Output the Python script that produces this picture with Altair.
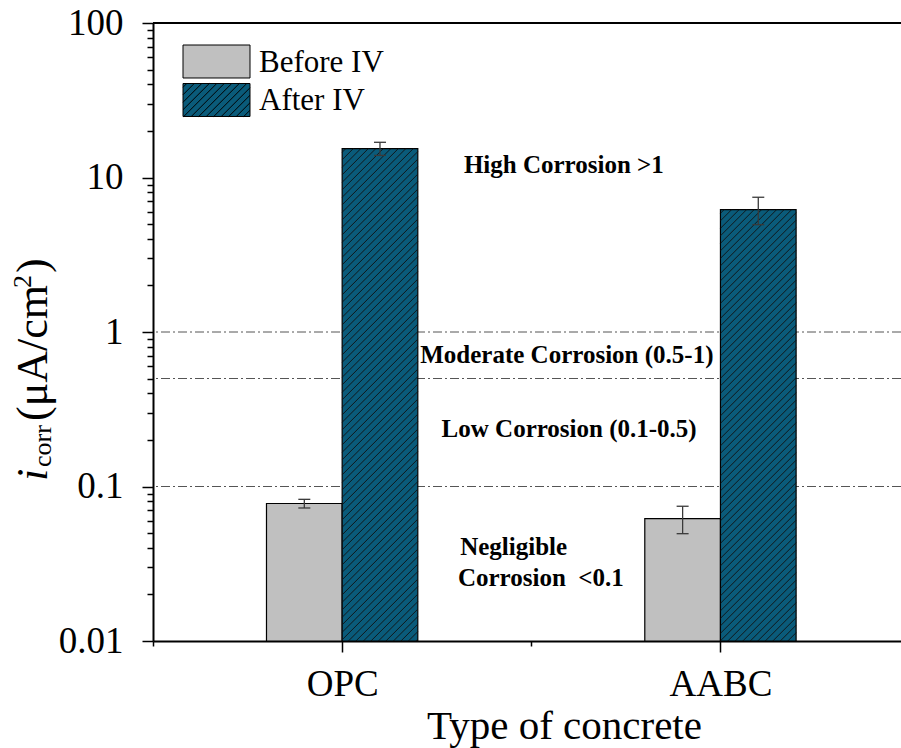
import math
import altair as alt
import pandas as pd

# ---- data -------------------------------------------------------------
concretes = ["OPC", "AABC"]
series = ["Before IV", "After IV"]
before_vals = [0.0776, 0.062]
before_errs = [0.005, 0.0125]
after_vals = [15.4, 6.2]
after_errs = [1.5, 1.25]

threshold_vals = [1.0, 0.5, 0.1]
notes = [
    "High Corrosion >1",
    "Moderate Corrosion (0.5-1)",
    "Low Corrosion (0.1-0.5)",
    "Negligible",
    "Corrosion\u00a0 <0.1",
]

# ---- layout -------------------------------------------------------------
PAD_L, PAD_T, PAD_R, PAD_B = 153, 23, 0, 107
W, H = 748, 618
XMAX = W / 378.3
BAR_W = 0.2
FONT = "Liberation Serif"
GRAY = "#c0c0c0"
TEAL = "#0a5b7a"

x_scale = alt.Scale(domain=[0, XMAX], nice=False, zero=False)
y_scale = alt.Scale(type="log", domain=[0.01, 100], nice=False)

cat_pos = [i + 0.5 for i in range(len(concretes))]
label_expr = " : ".join(
    f"datum.value == {p} ? '{c}'" for p, c in zip(cat_pos, concretes)
) + " : ''"
major_x = " || ".join(f"datum.value == {p}" for p in cat_pos)

X_AXIS = alt.Axis(
    values=[0, 0.5, 1, 1.5],
    labelExpr=label_expr,
    tickSize=alt.condition(major_x, alt.value(11), alt.value(5)),
    labelPadding=14,
    title="Type of concrete",
    titleX=411, titleY=97, titleBaseline="alphabetic",
    grid=False,
)

decade_test = "abs(log(datum.value)/LN10 - round(log(datum.value)/LN10)) < 0.001"
y_ticks = [round(m * 10 ** e, 10) for e in range(-2, 2) for m in range(1, 10)] + [100]
Y_AXIS = alt.Axis(
    values=y_ticks,
    labelExpr=f"{decade_test} ? format(datum.value, '~g') : ''",
    tickSize=alt.condition(decade_test, alt.value(11), alt.value(6)),
    labelPadding=19,
    title=None,
    grid=False,
)


def X(field):
    return alt.X(field, type="quantitative", scale=x_scale, axis=X_AXIS)


def Y(field):
    return alt.Y(field, type="quantitative", scale=y_scale, axis=Y_AXIS)


# ---- bar table -----------------------------------------------------------
rows = []
for i, c in enumerate(concretes):
    for s, vals, errs, off in (("Before IV", before_vals, before_errs, -BAR_W),
                               ("After IV", after_vals, after_errs, 0.0)):
        left = cat_pos[i] + off
        rows.append({
            "concrete": c, "series": s,
            "x0": left, "x1": left + BAR_W, "xc": left + BAR_W / 2,
            "val": vals[i], "base": 0.01,
            "lo": vals[i] - errs[i], "hi": vals[i] + errs[i],
        })
bars = pd.DataFrame(rows)


# ---- hatch texture for the "After IV" bars (45 degree lines on screen) --
def px_x(v):
    return v / XMAX * W


def px_y(v):
    return (2 - math.log10(v)) / 4 * H


def dat_x(p):
    return p / W * XMAX


def dat_y(p):
    return 10 ** (2 - 4 * p / H)


PERIOD = 7.5
hatch = []
for r in rows:
    if r["series"] != "After IV":
        continue
    X0, X1 = px_x(r["x0"]), px_x(r["x1"])
    Yt, Yb = px_y(r["val"]), H
    k = X0 + Yt + PERIOD / 2
    while k < X1 + Yb:
        xa = max(X0, k - Yb)
        xb = min(X1, k - Yt)
        if xb > xa:
            hatch.append({"xa": dat_x(xa), "xb": dat_x(xb),
                          "ya": dat_y(k - xa), "yb": dat_y(k - xb)})
        k += PERIOD
hatch_df = pd.DataFrame(hatch)

# ---- layers -----------------------------------------------------------------
thresholds = alt.Chart(pd.DataFrame({"v": threshold_vals})).mark_rule(
    color="#555555", strokeWidth=1, strokeDash=[9, 3, 2, 3]
).encode(y=Y("v"))

bar_layer = alt.Chart(bars).mark_bar(stroke="black", strokeWidth=1.2).encode(
    x=X("x0"), x2="x1", y=Y("val"), y2="base",
    fill=alt.Fill("series:N", scale=alt.Scale(domain=series, range=[GRAY, TEAL]),
                  legend=None),
)

hatch_layer = alt.Chart(hatch_df).mark_rule(color="#111111", strokeWidth=0.9).encode(
    x=X("xa"), x2="xb", y=Y("ya"), y2="yb"
)

err_rule = alt.Chart(bars).mark_rule(color="#3a3a3a", strokeWidth=1.3).encode(
    x=X("xc"), y=Y("lo"), y2="hi"
)
err_cap_hi = alt.Chart(bars).mark_tick(
    orient="horizontal", size=12, thickness=1.3, color="#3a3a3a", opacity=1
).encode(x=X("xc"), y=Y("hi"))
err_cap_lo = alt.Chart(bars).mark_tick(
    orient="horizontal", size=12, thickness=1.3, color="#3a3a3a", opacity=1
).encode(x=X("xc"), y=Y("lo"))

frame_top = alt.Chart(pd.DataFrame({"v": [100]})).mark_rule(
    color="black", strokeWidth=2
).encode(y=Y("v"))

# corrosion-level annotations
note_df = pd.DataFrame({
    "text": notes,
    "nx": [1.086, 1.094, 1.100, 0.812, 0.806],
    "ny": [12.0, 0.71, 0.236, 0.0405, 0.0256],
    "align": ["center", "center", "center", "left", "left"],
})
note_layers = []
for al in ("center", "left"):
    note_layers.append(
        alt.Chart(note_df[note_df["align"] == al]).mark_text(
            font=FONT, fontSize=25, fontWeight="bold", align=al,
            baseline="middle", color="black"
        ).encode(x=X("nx"), y=Y("ny"), text="text:N")
    )


# legend drawn as two patches with labels
def rect_path(hw, hh, s, hatch_lines):
    p = f"M{-hw / s:.4f},{-hh / s:.4f}H{hw / s:.4f}V{hh / s:.4f}H{-hw / s:.4f}Z"
    if hatch_lines:
        k = -hw - hh + PERIOD / 2
        while k < hw + hh:
            xa, xb = max(-hw, k - hh), min(hw, k + hh)
            if xb > xa:
                p += f"M{xa / s:.4f},{(k - xa) / s:.4f}L{xb / s:.4f},{(k - xb) / s:.4f}"
            k += PERIOD
    return p


PATCH_W, PATCH_H = 67, 33
S = PATCH_W / 2
leg_x = 216.5 - PAD_L
leg_ys = [61.5 - PAD_T, 100 - PAD_T]
legend_layers = []
for name, fill, y_pix, hatched in ((series[0], GRAY, leg_ys[0], False),
                                   (series[1], TEAL, leg_ys[1], True)):
    one = alt.Chart(pd.DataFrame({"series": [name]}))
    legend_layers.append(
        one.mark_point(
            shape=rect_path(PATCH_W / 2, PATCH_H / 2, S, hatched),
            size=PATCH_W ** 2, filled=True, fill=fill, stroke="black",
            strokeWidth=1, opacity=1,
        ).encode(x=alt.value(leg_x), y=alt.value(y_pix))
    )
    legend_layers.append(
        one.mark_text(font=FONT, fontSize=31, align="left", baseline="middle",
                      color="black").encode(
            x=alt.value(259 - PAD_L), y=alt.value(y_pix + 1), text="series:N"
        )
    )

# y-axis title: i_corr (µA/cm²), built from pieces reading bottom-to-top
title_parts = [
    ("i", 44, "italic", 47, 481),
    ("corr", 26, "normal", 51, 467),
    ("(\u03bcA/cm", 44, "normal", 47, 421),
    ("2", 26, "normal", 31, 288),
    (")", 44, "normal", 47, 273),
]
title_layers = []
for txt, fs, style, bx, by in title_parts:
    title_layers.append(
        alt.Chart(pd.DataFrame({"t": [txt]})).mark_text(
            font=FONT, fontSize=fs, fontStyle=style, angle=270,
            align="left", baseline="alphabetic", color="black"
        ).encode(x=alt.value(bx - PAD_L), y=alt.value(by - PAD_T), text="t:N")
    )

chart = alt.layer(
    thresholds, bar_layer, hatch_layer, err_rule, err_cap_hi, err_cap_lo,
    frame_top, *note_layers, *legend_layers, *title_layers,
).properties(
    width=W, height=H,
    autosize=alt.AutoSizeParams(type="none"),
    padding={"left": PAD_L, "top": PAD_T, "right": PAD_R, "bottom": PAD_B},
    background="white",
).configure_view(stroke=None).configure_axis(
    domainColor="black", domainWidth=2, tickColor="black", tickWidth=1.5,
    labelColor="black", labelFont=FONT, labelFontSize=37, titleFont=FONT,
    titleFontSize=41, titleFontWeight="normal", titleColor="black",
)

chart.save("out.html", embed_options={"renderer": "svg", "actions": False})
